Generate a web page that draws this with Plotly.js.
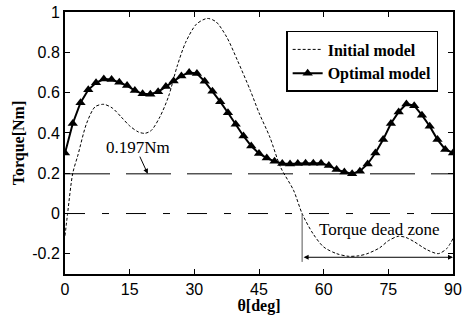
<!DOCTYPE html>
<html>
<head>
<meta charset="utf-8">
<script src="https://cdn.plot.ly/plotly-3.0.1.min.js"></script>
<style>html,body{margin:0;padding:0;background:#fff;}#chart{width:468px;height:315px;}</style>
</head>
<body>
<div id="chart"></div>
<script>
// Initial model (thin dashed curve)
const thetaInit = [0, 0.6, 1.8, 3, 5, 7, 9, 11, 13, 15, 17, 18.5, 20, 22, 24, 26, 28, 30.5, 33, 35, 37.5, 40, 43, 45, 47.5, 50, 53, 55, 57.5, 60, 63, 65.7, 68, 70, 73, 75, 77.3, 79, 81, 84, 86.6, 88.5, 90];
const torqueInit = [-0.11, 0, 0.2, 0.29, 0.447, 0.53, 0.542, 0.523, 0.48, 0.435, 0.405, 0.398, 0.412, 0.479, 0.58, 0.73, 0.85, 0.94, 0.968, 0.952, 0.876, 0.76, 0.61, 0.50, 0.38, 0.23, 0.116, 0, -0.099, -0.166, -0.199, -0.212, -0.21, -0.2, -0.17, -0.135, -0.113, -0.118, -0.14, -0.18, -0.199, -0.175, -0.124];

// Optimal model (thick line with triangles)
const thetaOpt = [0, 1.8, 3.6, 5.4, 7.2, 9, 10.8, 12.6, 14.4, 16.2, 18, 19.8, 21.6, 23.4, 25.2, 27, 28.8, 30.6, 32.4, 34.2, 36, 37.8, 39.6, 41.4, 43.2, 45, 46.8, 48.6, 50.4, 52.2, 54, 55.8, 57.6, 59.4, 61.2, 63, 64.8, 66.6, 68.4, 70.2, 72, 73.8, 75.6, 77.4, 79.2, 81, 82.8, 84.6, 86.4, 88.2, 90];
const torqueOpt = [0.30, 0.447, 0.55, 0.614, 0.649, 0.667, 0.665, 0.651, 0.635, 0.61, 0.594, 0.592, 0.604, 0.63, 0.658, 0.683, 0.70, 0.695, 0.656, 0.607, 0.555, 0.50, 0.443, 0.385, 0.335, 0.298, 0.275, 0.259, 0.248, 0.246, 0.248, 0.25, 0.25, 0.25, 0.238, 0.218, 0.206, 0.198, 0.21, 0.246, 0.30, 0.367, 0.447, 0.504, 0.544, 0.535, 0.488, 0.433, 0.367, 0.318, 0.301];

// Reference lines and annotations
const minTorque = 0.197;
const zeroLevel = 0;
const deadZoneStart = 55;
const deadZoneEnd = 90;
const deadZoneArrowY = -0.217;
const deadZoneLineBottom = -0.24;

const xTickVals = [0, 15, 30, 45, 60, 75, 90];
const xTickText = ['0', '15', '30', '45', '60', '75', '90'];
const yTickVals = [-0.2, 0, 0.2, 0.4, 0.6, 0.8, 1];
const yTickText = ['-0.2', '0', '0.2', '0.4', '0.6', '0.8', '1'];

const serif = 'Liberation Serif, Times New Roman, serif';
const sans = 'Liberation Sans, Arial, sans-serif';

const traces = [
  {
    x: thetaInit, y: torqueInit, name: 'Initial model', type: 'scatter', mode: 'lines',
    line: {color: '#000', width: 1, dash: '3px,2px', shape: 'spline', smoothing: 0.8}
  },
  {
    x: thetaOpt, y: torqueOpt, name: 'Optimal model', type: 'scatter', mode: 'lines+markers',
    line: {color: '#000', width: 2},
    marker: {symbol: 'triangle-up', size: 9, color: '#000'}
  }
];

const axisCommon = {
  showgrid: false, zeroline: false, showline: true, linecolor: '#000', linewidth: 2,
  mirror: 'ticks', ticks: 'inside', ticklen: 5, tickwidth: 1, tickcolor: '#000',
  tickfont: {family: sans, size: 16, color: '#000'}
};

const layout = {
  width: 468, height: 315,
  margin: {l: 65, r: 15, t: 12, b: 41},
  paper_bgcolor: '#fff', plot_bgcolor: '#fff',
  showlegend: true,
  legend: {
    x: 0.57, y: 0.9275, xanchor: 'left', yanchor: 'top',
    bgcolor: '#fff', bordercolor: '#000', borderwidth: 1.5,
    itemwidth: 30, tracegroupgap: 0,
    font: {family: serif, size: 16, color: '#000', weight: 'bold'}
  },
  xaxis: Object.assign({}, axisCommon, {
    range: [0, 90], tickvals: xTickVals, ticktext: xTickText,
    title: {text: 'θ[deg]', standoff: 0, font: {family: serif, size: 16, color: '#000', weight: 'bold'}}
  }),
  yaxis: Object.assign({}, axisCommon, {
    range: [-0.3, 1], tickvals: yTickVals, ticktext: yTickText,
    title: {text: 'Torque[Nm]', standoff: 4, font: {family: serif, size: 16, color: '#000', weight: 'bold'}}
  }),
  shapes: [
    {type: 'line', xref: 'paper', x0: 0, x1: 1, yref: 'y', y0: minTorque, y1: minTorque,
     line: {color: '#000', width: 1, dash: '45px,16px'}},
    {type: 'line', xref: 'paper', x0: 0, x1: 1, yref: 'y', y0: zeroLevel, y1: zeroLevel,
     line: {color: '#000', width: 1, dash: '20px,17px,7px,17px'}},
    {type: 'line', xref: 'x', x0: deadZoneStart, x1: deadZoneStart, yref: 'y', y0: zeroLevel, y1: deadZoneLineBottom,
     line: {color: '#555', width: 1}}
  ],
  annotations: [
    {x: 16.9, y: 0.33, xref: 'x', yref: 'y', text: '0.197Nm', showarrow: false,
     font: {family: serif, size: 17, color: '#000'}},
    {x: 19.2, y: minTorque, xref: 'x', yref: 'y', ax: 17.2, ay: 0.29, axref: 'x', ayref: 'y',
     text: '', showarrow: true, arrowhead: 2, arrowsize: 1, arrowwidth: 1, arrowcolor: '#000'},
    {x: 73, y: -0.077, xref: 'x', yref: 'y', text: 'Torque dead zone', showarrow: false,
     font: {family: serif, size: 17, color: '#000'}},
    {x: deadZoneEnd, y: deadZoneArrowY, xref: 'x', yref: 'y', ax: deadZoneStart, ay: deadZoneArrowY,
     axref: 'x', ayref: 'y', text: '', showarrow: true, arrowside: 'end+start',
     arrowhead: 2, arrowsize: 1, arrowwidth: 1, arrowcolor: '#000'}
  ]
};

Plotly.newPlot('chart', traces, layout, {displayModeBar: false, staticPlot: true});
</script>
</body>
</html>
